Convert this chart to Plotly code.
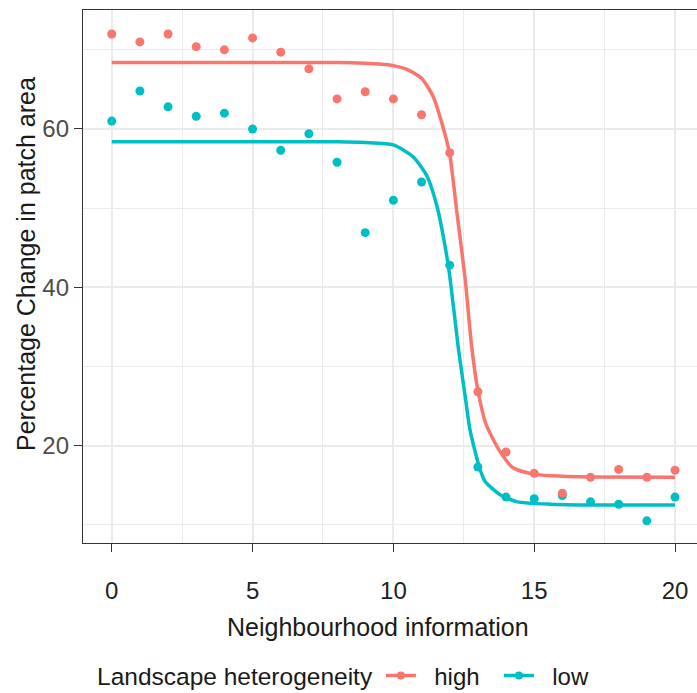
import plotly.graph_objects as go

# ---- data ----
x_pts = list(range(21))
high_pts = [72.0, 71.0, 72.0, 70.4, 70.0, 71.5, 69.7, 67.6, 63.8, 64.7, 63.8,
            61.8, 57.0, 26.8, 19.2, 16.5, 14.0, 16.0, 17.0, 16.0, 16.9]
low_pts = [61.0, 64.8, 62.8, 61.6, 62.0, 60.0, 57.3, 59.4, 55.8, 46.9, 51.0,
           53.3, 42.8, 17.3, 13.5, 13.3, 13.7, 12.9, 12.6, 10.5, 13.5]

# fitted curves
high_fit_x = [0, 8, 9, 9.5, 10, 10.5, 11, 11.4, 11.7, 12.0, 12.25, 12.55, 12.78,
              13.0, 13.29, 13.76, 14.25, 14.96, 15.6, 17, 20]
high_fit_y = [68.4, 68.4, 68.3, 68.2, 68.0, 67.5, 66.4, 64.2, 61.0, 56.8, 49.6,
              41.0, 32.5, 27.0, 22.7, 19.4, 17.2, 16.4, 16.2, 16.05, 16.0]
low_fit_x = [0, 8, 9, 10, 10.7, 11.2, 11.55, 11.84, 12.0, 12.3, 12.55, 12.72,
             13.05, 13.25, 13.79, 14.4, 15.6, 17, 20]
low_fit_y = [58.4, 58.4, 58.3, 58.0, 56.5, 54.0, 50.2, 45.1, 41.5, 32.5, 26.2,
             22.0, 17.3, 15.5, 13.8, 12.9, 12.6, 12.5, 12.5]

groups = ["high", "low"]
colors = {"high": "#F8766D", "low": "#00BFC4"}
x_ticks = [0, 5, 10, 15, 20]
y_ticks = [20, 40, 60]

FONT = "Liberation Sans, Arial, sans-serif"
NB = "\u00a0\u00a0"

fig = go.Figure()
fits = {"high": (high_fit_x, high_fit_y), "low": (low_fit_x, low_fit_y)}
pts = {"high": high_pts, "low": low_pts}

for g in ["low", "high"]:
    fx, fy = fits[g]
    fig.add_trace(go.Scatter(x=fx, y=fy, mode="lines", showlegend=False,
                             line=dict(color=colors[g], width=3.5, shape="spline", smoothing=0.6),
                             hoverinfo="skip"))
for g in ["low", "high"]:
    fig.add_trace(go.Scatter(x=x_pts, y=pts[g], mode="markers", showlegend=False,
                             marker=dict(color=colors[g], size=9)))
for g in groups:
    fig.add_trace(go.Scatter(x=[None], y=[None], mode="lines+markers", name=NB + g,
                             line=dict(color=colors[g], width=3.5),
                             marker=dict(color=colors[g], size=8)))

W, H = 697, 693
ml, mr, mt, mb = 83, 0, 10, 150
pw, ph = W - ml - mr, H - mt - mb

def px_x(p):
    return (p - ml) / pw

def px_y(p):
    return (H - mb - p) / ph

fig.update_layout(
    width=W, height=H,
    margin=dict(l=ml, r=mr, t=mt, b=mb, pad=0, autoexpand=False),
    paper_bgcolor="white", plot_bgcolor="white",
    font=dict(family=FONT, size=24, color="#1a1a1a"),
    xaxis=dict(range=[-1.02, 20.78], tickvals=x_ticks, ticks="outside", ticklen=8,
               tickwidth=1.3, tickcolor="#333333", showline=True, linecolor="#333333",
               linewidth=1.3, mirror=True, showgrid=True, gridcolor="#EBEBEB", gridwidth=1.6,
               zeroline=False, tickfont=dict(size=24, color="#222222"),
               ticklabelstandoff=18, automargin=False,
               minor=dict(tick0=2.5, dtick=5, showgrid=True, gridcolor="#EBEBEB", gridwidth=0.8)),
    yaxis=dict(range=[7.7, 75.03], tickvals=y_ticks, ticks="outside", ticklen=8,
               tickwidth=1.3, tickcolor="#333333", showline=True, linecolor="#333333",
               linewidth=1.3, mirror=False, showgrid=True, gridcolor="#EBEBEB", gridwidth=1.6,
               zeroline=False, tickfont=dict(size=24, color="#4D4D4D"),
               ticklabelstandoff=0, automargin=False,
               minor=dict(tick0=10, dtick=20, showgrid=True, gridcolor="#EBEBEB", gridwidth=0.8)),
    legend=dict(orientation="h", x=px_x(95), xanchor="left", y=px_y(676), yanchor="middle",
                title=dict(text="Landscape heterogeneity", font=dict(size=24.5, color="#1a1a1a")),
                font=dict(size=24, color="#1a1a1a"), bgcolor="rgba(0,0,0,0)", itemwidth=30,
                entrywidth=73, entrywidthmode="pixels"),
    annotations=[
        dict(text="Neighbourhood information", x=px_x(377.5), y=px_y(627), xref="paper", yref="paper",
             xanchor="center", yanchor="middle", showarrow=False,
             font=dict(size=25, color="#1a1a1a")),
        dict(text="Percentage Change in patch area", x=px_x(26), y=px_y(264), xref="paper", yref="paper",
             xanchor="center", yanchor="middle", showarrow=False, textangle=-90,
             font=dict(size=25, color="#1a1a1a")),
    ],
)

fig.write_html("out.html")
